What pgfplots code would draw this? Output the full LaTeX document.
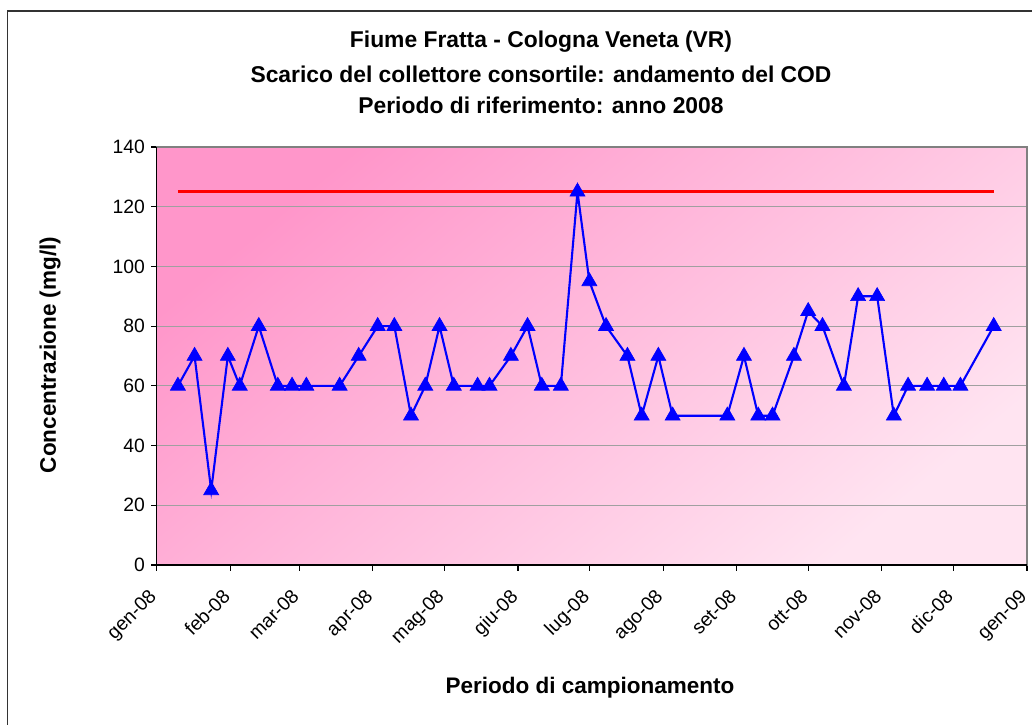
\documentclass[border=0pt]{standalone}
\usepackage{fontspec}
\setmainfont{Liberation Sans}
\usepackage{pgfplots}
\pgfplotsset{compat=1.18}

\definecolor{PinkDark}{RGB}{255,150,202}
\definecolor{PinkLight}{RGB}{255,228,241}
\definecolor{GridGray}{RGB}{160,160,160}

\pgfplotstableread{
day cod
9   60
16  70
23  25
30  70
35  60
43  80
51  60
57  60
63  60
77  60
85  70
93  80
100 80
107 50
113 60
119 80
125 60
135 60
140 60
149 70
156 80
162 60
170 60
177 125
182 95
189 80
198 70
204 50
211 70
217 50
240 50
247 70
253 50
259 50
268 70
274 85
280 80
289 60
295 90
303 90
310 50
316 60
324 60
331 60
338 60
352 80
}\codtable

\begin{document}
\begin{tikzpicture}
\useasboundingbox (0,0) rectangle (20.64,-14.48);
% chart frame (right and bottom edges fall outside the picture)
\draw[line width=0.9pt, black!80] (0.146,-15) -- (0.146,-0.22) -- (21,-0.22);

\begin{axis}[
  at={(3.13cm,-11.3cm)}, anchor=south west,
  scale only axis,
  width=17.41cm, height=8.36cm,
  xmin=0, xmax=366, ymin=0, ymax=140,
  xtick={0,31,60,91,121,152,182,213,244,274,305,335,366},
  xticklabels={gen-08,feb-08,mar-08,apr-08,mag-08,giu-08,lug-08,ago-08,set-08,ott-08,nov-08,dic-08,gen-09},
  ytick={0,20,...,140},
  tick pos=left,
  tick align=outside,
  major tick length=0.11cm,
  tick style={black, line width=0.6pt},
  xticklabel style={rotate=45, anchor=north east, xshift=-0.25cm,
    font=\fontsize{11}{13}\selectfont},
  yticklabel style={font=\fontsize{11}{13}\selectfont},
  /pgf/number format/assume math mode=true,
  ymajorgrids,
  grid style={GridGray, line width=0.5pt},
  axis line style={GridGray!80!black, line width=0.8pt},
  axis background/.style={shade, top color=PinkDark, bottom color=PinkLight, shading angle=40},
  clip=false,
]
\addplot[red, line width=1.8pt] coordinates {(9,125) (352,125)};
\addplot[blue, line width=1.2pt, mark=triangle*, mark size=4.9pt,
  mark options={fill=blue, draw=blue, line width=0.4pt}] table[x=day, y=cod] {\codtable};
\draw[black, line width=0.9pt] (rel axis cs:0,1) -- (rel axis cs:0,0) -- (rel axis cs:1,0);
\end{axis}

\node[font=\bfseries\fontsize{13}{15}\selectfont] at (10.82,-0.84) {Fiume Fratta - Cologna Veneta (VR)};
\node[font=\bfseries\fontsize{13}{15}\selectfont] at (10.82,-1.48) {Scarico del collettore consortile: andamento del COD};
\node[font=\bfseries\fontsize{13}{15}\selectfont] at (10.82,-2.10) {Periodo di riferimento: anno 2008};
\node[font=\bfseries\fontsize{12.8}{15}\selectfont, rotate=90] at (1.0,-7.1) {Concentrazione (mg/l)};
\node[font=\bfseries\fontsize{12.8}{15}\selectfont] at (11.8,-13.76) {Periodo di campionamento};
\end{tikzpicture}
\end{document}
